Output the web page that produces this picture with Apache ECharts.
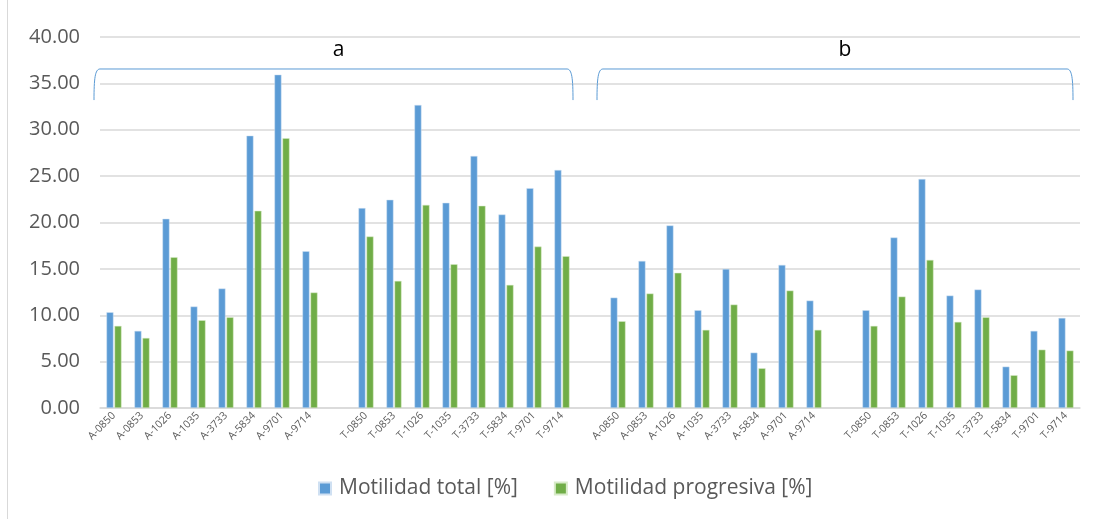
<!DOCTYPE html>
<html>
<head>
<meta charset="utf-8">
<script src="https://cdn.jsdelivr.net/npm/echarts@6/dist/echarts.min.js"></script>
<style>
html,body{margin:0;padding:0;background:#fff;}
#c{width:1100px;height:519px;}
#edge{position:absolute;left:7px;top:0;width:1px;height:519px;background:#d9d9d9;}
</style>
</head>
<body>
<div id="c"></div>
<div id="edge"></div>
<script>
const categories = [
  'A-0850','A-0853','A-1026','A-1035','A-3733','A-5834','A-9701','A-9714','',
  'T-0850','T-0853','T-1026','T-1035','T-3733','T-5834','T-9701','T-9714','',
  'A-0850','A-0853','A-1026','A-1035','A-3733','A-5834','A-9701','A-9714','',
  'T-0850','T-0853','T-1026','T-1035','T-3733','T-5834','T-9701','T-9714'
];
const motilidadTotal = [
  10.32, 8.31, 20.40, 10.94, 12.88, 29.36, 35.94, 16.90, null,
  21.55, 22.45, 32.67, 22.12, 27.17, 20.86, 23.70, 25.66, null,
  11.90, 15.86, 19.68, 10.54, 15.00, 5.97, 15.43, 11.58, null,
  10.54, 18.38, 24.69, 12.12, 12.77, 4.46, 8.31, 9.71
];
const motilidadProgresiva = [
  8.85, 7.55, 16.26, 9.46, 9.78, 21.26, 29.08, 12.45, null,
  18.49, 13.70, 21.90, 15.50, 21.80, 13.27, 17.40, 16.37, null,
  9.35, 12.34, 14.57, 8.42, 11.15, 4.28, 12.66, 8.42, null,
  8.85, 12.01, 15.97, 9.28, 9.78, 3.53, 6.29, 6.19
];
const yTicks = { min: 0, max: 40, interval: 5 };
const groupLabels = ['a', 'b'];

const chart = echarts.init(document.getElementById('c'));
const font = '"Open Sans", "Noto Sans", sans-serif';
chart.setOption({
  animation: false,
  backgroundColor: '#fff',
  grid: { left: 100, right: 20, top: 37, bottom: 111 },
  legend: {
    bottom: 15,
    left: 313,
    itemWidth: 12, itemHeight: 12, itemGap: 36,
    icon: 'rect',
    textStyle: { fontSize: 21, color: '#595959', fontFamily: font, padding: [0, 0, 0, 3] },
    data: ['Motilidad total [%]', 'Motilidad progresiva [%]']
  },
  xAxis: {
    type: 'category',
    data: categories,
    axisLine: { lineStyle: { color: '#d9d9d9', width: 1.5 } },
    axisTick: { show: false },
    axisLabel: { interval: 0, rotate: 45, fontSize: 10.5, color: '#595959', fontFamily: font, margin: 6 }
  },
  yAxis: {
    type: 'value',
    min: yTicks.min, max: yTicks.max, interval: yTicks.interval,
    axisLine: { show: false },
    axisTick: { show: false },
    splitLine: { lineStyle: { color: '#d9d9d9', width: 1.5 } },
    axisLabel: { fontSize: 20, color: '#595959', fontFamily: font, margin: 20,
      formatter: v => v.toFixed(2) }
  },
  series: [
    { name: 'Motilidad total [%]', type: 'bar', data: motilidadTotal, barWidth: 7, barGap: '15%',
      itemStyle: { color: '#5B9BD5', borderColor: '#cfe0f2', borderWidth: 0.5 } },
    { name: 'Motilidad progresiva [%]', type: 'bar', data: motilidadProgresiva, barWidth: 7,
      itemStyle: { color: '#70AD47', borderColor: '#d8ebc9', borderWidth: 0.5 } }
  ]
});

function drawBrackets() {
  const cx = i => chart.convertToPixel({ xAxisIndex: 0 }, i);
  const py = v => chart.convertToPixel({ yAxisIndex: 0 }, v);
  const w = cx(1) - cx(0);
  const groups = [
    { l: cx(0) - w / 2 - 6, r: cx(16) + w / 2 - 3, label: groupLabels[0], dx: 5 },
    { l: cx(18) - w / 2 - 7, r: cx(34) + w / 2 - 7, label: groupLabels[1], dx: 10 }
  ];
  const yTop = py(36.55), yEnd = py(33.2), yLab = py(38.6);
  const els = [];
  const st = { fill: null, stroke: '#5B9BD5', lineWidth: 1 };
  groups.forEach(g => {
    els.push({ type: 'bezierCurve', silent: true, style: st,
      shape: { x1: g.l, y1: yEnd, cpx1: g.l, cpy1: yTop + 10, cpx2: g.l + 1, cpy2: yTop, x2: g.l + 6, y2: yTop } });
    els.push({ type: 'line', silent: true, style: st,
      shape: { x1: g.l + 6, y1: yTop, x2: g.r - 6, y2: yTop } });
    els.push({ type: 'bezierCurve', silent: true, style: st,
      shape: { x1: g.r - 6, y1: yTop, cpx1: g.r - 1, cpy1: yTop, cpx2: g.r, cpy2: yTop + 10, x2: g.r, y2: yEnd } });
    els.push({ type: 'text', x: (g.l + g.r) / 2 + g.dx, y: yLab,
      style: { text: g.label, fontSize: 21, fill: '#000', fontFamily: font, align: 'center', verticalAlign: 'middle' } });
  });
  chart.setOption({ graphic: els });
}
drawBrackets();
</script>
</body>
</html>
